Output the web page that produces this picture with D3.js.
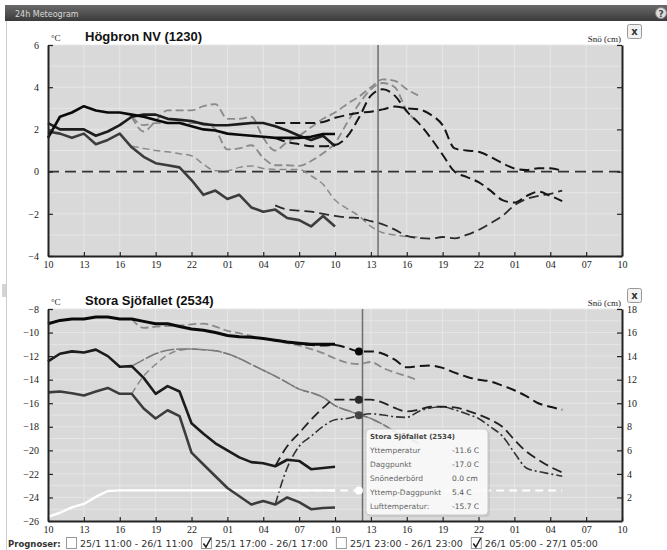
<!DOCTYPE html>
<html>
<head>
<meta charset="utf-8">
<script src="https://cdn.jsdelivr.net/npm/d3@7"></script>
<style>
  body { margin: 0; background: #fff; }
</style>
</head>
<body>
<svg id="chart" width="667" height="550"></svg>
<script>

// x axis: hours after 10:00 on 25/1
const xLabels = ['10', '13', '16', '19', '22', '01', '04', '07', '10',
                 '13', '16', '19', '22', '01', '04', '07', '10'];
const xTickHours = [0, 3, 6, 9, 12, 15, 18, 21, 24, 27, 30, 33, 36, 39, 42, 45, 48];

// start hour of each series
const obsStart = 0;
const f1Start = 7;   // prognos 25/1 17:00
const f2Start = 19;  // prognos 26/1 05:00

// ---- Högbron NV (1230) ----
const topTicks = [-4, -2, 0, 2, 4, 6];
const topObsA = [1.6, 2.6, 2.8, 3.1, 2.9, 2.8, 2.8, 2.7, 2.6, 2.45, 2.3, 2.3, 2.15,
                 2.0, 1.95, 1.8, 1.75, 1.7, 1.65, 1.6, 1.6, 1.6, 1.65, 1.78, 1.78];
const topObsB = [2.3, 2.0, 2.0, 2.0, 1.7, 1.9, 2.2, 2.6, 2.7, 2.7, 2.5, 2.45, 2.4,
                 2.25, 2.2, 2.2, 2.25, 2.3, 2.3, 2.15, 1.95, 1.7, 1.5, 1.7, 1.2];
const topObsDagg = [1.9, 1.8, 1.6, 1.8, 1.3, 1.5, 1.8, 1.15, 0.7, 0.4, 0.3, 0.2, -0.4,
                    -1.1, -0.9, -1.3, -1.1, -1.7, -1.9, -1.8, -2.2, -2.3, -2.6, -2.1, -2.6];
const topF1a = [2.6, 1.9, 2.4, 2.9, 2.9, 2.9, 3.1, 3.2, 2.5, 2.5, 2.6, 1.6, 1.0,
                1.4, 1.7, 2.1, 2.5, 2.8, 3.2, 3.55, 4.0, 4.37, 4.3, 3.9, 3.6];
const topF1b = [2.6, 2.2, 2.3, 2.3, 2.3, 2.3, 2.3, 2.0, 1.05, 1.1, 1.25, 0.65, 0.3,
                0.3, 0.27, 0.5, 0.87, 1.35, 2.3, 3.2, 3.9, 4.2, 4.0, 2.9, 2.3];
const topF1c = [1.2, 1.1, 1.0, 0.94, 0.85, 0.75, 0.35, 0.04, 0.04, 0.2, 0.27, 0.15, 0.1,
                0.1, 0.1, -0.2, -0.6, -1.35, -1.75, -2.1, -2.6, -2.9, -3.0, -3.08, -3.1];
const topF2a = [2.3, 2.3, 2.3, 2.3, 2.35, 2.55, 2.68, 2.79, 2.84, 2.95, 3.08, 3.0, 2.95,
                2.7, 2.2, 1.1, 1.0, 0.94, 0.7, 0.4, 0.15, 0.08, 0.16, 0.16, 0.03];
const topF2b = [1.6, 1.4, 1.3, 1.2, 1.2, 1.26, 1.65, 2.55, 3.6, 3.9, 3.6, 2.85, 2.3,
                1.6, 0.8, 0.0, -0.25, -0.5, -0.9, -1.35, -1.47, -1.16, -0.95, -1.15, -1.4];
const topF2c = [-1.6, -1.8, -1.85, -1.9, -2.0, -2.1, -2.17, -2.2, -2.35, -2.5, -2.75, -3.05, -3.15,
                -3.18, -3.1, -3.16, -3.0, -2.77, -2.45, -2.1, -1.6, -1.3, -1.15, -1.05, -0.9];
const topCursorHour = 27.6;

// ---- Stora Sjöfallet (2534) ----
const botTicks = [-26, -24, -22, -20, -18, -16, -14, -12, -10, -8];
const snowTicks = [2, 4, 6, 8, 10, 12, 14, 16, 18];
const botObsYtt = [-9.25, -8.97, -8.85, -8.85, -8.68, -8.68, -8.85, -8.85, -9.05, -9.25, -9.25, -9.48, -9.7,
                   -9.8, -10.0, -10.25, -10.35, -10.4, -10.5, -10.65, -10.8, -10.9, -11.0, -11.0, -11.0];
const botObsLuft = [-12.45, -11.8, -11.6, -11.7, -11.45, -12.0, -12.9, -12.85, -13.85, -15.2, -14.55, -15.0, -17.7,
                    -18.6, -19.4, -20.0, -20.6, -21.0, -21.1, -21.35, -20.8, -20.9, -21.6, -21.5, -21.4];
const botObsDagg = [-15.08, -15.0, -15.15, -15.35, -15.0, -14.7, -15.2, -15.2, -16.45, -17.3, -16.6, -17.1, -20.2,
                    -21.2, -22.2, -23.2, -23.9, -24.6, -24.3, -24.6, -24.0, -24.4, -25.0, -24.9, -24.85];
const botObsSnow = [0.35, 0.7, 1.15, 1.45, 2.05, 2.55, 2.6, 2.6, 2.6, 2.6, 2.6, 2.6, 2.6,
                    2.6, 2.6, 2.6, 2.6, 2.6, 2.6, 2.6, 2.6, 2.6, 2.6, 2.6, 2.6];
const botF1Ytt = [-8.85, -9.6, -9.5, -9.45, -9.4, -9.3, -9.25, -9.5, -9.85, -10.05, -10.3, -10.5, -10.7,
                  -10.9, -11.1, -11.4, -11.75, -12.2, -12.55, -12.67, -12.5, -13.0, -13.4, -13.7, -14.1];
const botF1Luft = [-12.85, -12.3, -11.8, -11.5, -11.4, -11.4, -11.45, -11.55, -11.8, -12.2, -12.7, -13.2, -13.7,
                   -14.25, -14.8, -15.1, -15.5, -16.2, -16.6, -16.95, -17.3, -17.8, -18.4, -18.9, -19.4];
const botF1Dagg = [-15.2, -13.7, -12.7, -11.9, -11.5, -11.4, -11.45, -11.55, -11.8, -12.2, -12.7, -13.2, -13.7,
                   -14.25, -14.8, -15.1, -15.5, -16.2, -16.6, -16.95, -17.3, -17.8, -18.4, -18.9, -19.4];
const botF2Ytt = [-10.65, -10.8, -10.95, -11.05, -11.1, -11.05, -11.3, -11.6, -11.6, -11.8, -12.3, -12.95, -12.85,
                  -12.8, -13.0, -13.4, -13.75, -14.0, -14.15, -14.5, -14.9, -15.4, -16.0, -16.3, -16.55];
const botF2Luft = [-21.35, -19.66, -18.53, -17.4, -16.4, -15.7, -15.7, -15.7, -15.7, -15.95, -16.4, -16.7, -16.55,
                   -16.3, -16.3, -16.35, -16.6, -16.97, -17.4, -18.0, -19.1, -20.1, -20.8, -21.4, -21.87];
const botF2Dagg = [-24.6, -21.5, -19.66, -18.8, -17.97, -17.4, -17.3, -17.03, -16.9, -17.0, -17.15, -17.2, -16.7,
                   -16.4, -16.3, -16.55, -16.9, -17.3, -18.0, -18.8, -20.2, -21.5, -21.8, -22.0, -22.2];
const botF2Snow = [2.6, 2.6, 2.6, 2.6, 2.6, 2.6, 2.6, 2.6, 2.6, 2.6, 2.6, 2.6, 2.6,
                   2.6, 2.6, 2.6, 2.6, 2.6, 2.6, 2.6, 2.6, 2.6, 2.6, 2.6, 2.6];
const botCursorHour = 26.3;
const botMarkerHour = 26;

// tooltip and legend texts
const tipTitle = 'Stora Sjöfallet (2534)';
const tipLabels = ['Yttemperatur', 'Daggpunkt', 'Snönederbörd', 'Yttemp-Daggpunkt', 'Lufttemperatur:'];
const tipValues = ['-11.6 C', '-17.0 C', '0.0 cm', '5.4 C', '-15.7 C'];
const forecastLabels = ['25/1 11:00 - 26/1 11:00', '25/1 17:00 - 26/1 17:00',
                        '25/1 23:00 - 26/1 23:00', '26/1 05:00 - 27/1 05:00'];
const forecastChecked = [false, true, false, true];


const svg = d3.select('#chart');
const serif = 'Liberation Serif, Times New Roman, serif';
const sans = 'DejaVu Sans, Verdana, sans-serif';

const x = d3.scaleLinear().domain([0, 48]).range([48, 622]);

function toPoints(values, start) {
  return values.map((v, i) => [start + i, v]);
}

// window chrome
let bar = svg.append('defs').append('linearGradient')
  .attr('id', 'barGrad').attr('x1', 0).attr('y1', 0).attr('x2', 0).attr('y2', 1);
bar.append('stop').attr('offset', 0).attr('stop-color', '#6a6a6a');
bar.append('stop').attr('offset', 1).attr('stop-color', '#3a3a3a');
svg.append('rect').attr('x', 5).attr('y', 5).attr('width', 662).attr('height', 16)
  .attr('fill', 'url(#barGrad)');
svg.append('text').text('24h Meteogram')
  .attr('x', 15).attr('y', 16.5)
  .attr('font-family', sans).attr('font-size', 8).attr('fill', '#d8d8d8');
svg.append('circle').attr('cx', 661).attr('cy', 13).attr('r', 5.5)
  .attr('fill', '#ddd').attr('stroke', '#888');
svg.append('text').text('?').attr('x', 661).attr('y', 16.5).attr('text-anchor', 'middle')
  .attr('font-family', sans).attr('font-size', 9).attr('font-weight', 'bold').attr('fill', '#444');
svg.append('line').attr('x1', 6.5).attr('x2', 6.5).attr('y1', 21).attr('y2', 550)
  .attr('stroke', '#ccc');
svg.append('line').attr('x1', 3).attr('x2', 3).attr('y1', 284).attr('y2', 297).attr('stroke', '#aaa');
svg.append('line').attr('x1', 5).attr('x2', 5).attr('y1', 284).attr('y2', 297).attr('stroke', '#aaa');

function drawPanel(p) {
  let g = svg.append('g');
  let y = d3.scaleLinear().domain(p.yDomain).range([p.bottom, p.top]);
  let yR = d3.scaleLinear().domain(p.rightDomain).range([p.bottom, p.top]);

  // plot background
  g.append('rect')
    .attr('x', x(0)).attr('y', p.top)
    .attr('width', x(48) - x(0)).attr('height', p.bottom - p.top)
    .attr('fill', '#d9d9d9');

  // grid
  g.selectAll('.hgrid').data(d3.range(p.yDomain[0] + 1, p.yDomain[1] + 1)).enter()
    .append('line')
    .attr('x1', x(0)).attr('x2', x(48))
    .attr('y1', d => y(d)).attr('y2', d => y(d))
    .attr('stroke', '#e6e6e6').attr('stroke-width', 1);
  g.selectAll('.vgrid').data(xTickHours.slice(1, -1)).enter()
    .append('line')
    .attr('x1', d => x(d)).attr('x2', d => x(d))
    .attr('y1', p.top).attr('y2', p.bottom)
    .attr('stroke', '#e6e6e6').attr('stroke-width', 1);

  if (p.zeroLine) {
    g.append('line')
      .attr('x1', x(0)).attr('x2', x(48))
      .attr('y1', y(0)).attr('y2', y(0))
      .attr('stroke', '#333').attr('stroke-width', 1.6)
      .attr('stroke-dasharray', '11,6');
  }

  // lines
  for (let s of p.series) {
    let yy = s.right ? yR : y;
    let makeLine = d3.line()
      .x(d => x(d[0])).y(d => yy(d[1]))
      .curve(s.dash ? d3.curveMonotoneX : d3.curveLinear);
    g.append('path')
      .attr('d', makeLine(toPoints(s.values, s.start)))
      .attr('fill', 'none')
      .attr('stroke', s.color)
      .attr('stroke-width', s.width)
      .attr('stroke-dasharray', s.dash || null)
      .attr('stroke-linejoin', 'round');
  }

  // cursor line
  g.append('line')
    .attr('x1', x(p.cursor)).attr('x2', x(p.cursor))
    .attr('y1', p.top).attr('y2', p.bottom)
    .attr('stroke', '#6e6e6e').attr('stroke-width', 1.5);

  // markers
  for (let m of (p.markers || [])) {
    let yy = m.right ? yR : y;
    g.append('circle')
      .attr('cx', x(p.markerHour))
      .attr('cy', yy(m.values[p.markerHour - m.start]))
      .attr('r', 4)
      .attr('fill', m.color)
      .attr('stroke', m.stroke || 'none');
  }

  // axes
  let leftAxis = g.append('g').attr('transform', 'translate(' + x(0) + ',0)')
    .call(d3.axisLeft(y).tickValues(p.leftTicks).tickSize(-5).tickSizeOuter(0).tickPadding(9));
  let rightAxis = g.append('g').attr('transform', 'translate(' + x(48) + ',0)')
    .call(d3.axisRight(yR).tickValues(p.rightTicks).tickSize(-5).tickSizeOuter(0).tickPadding(5)
      .tickFormat(p.rightLabels ? d3.format('d') : ''));
  let bottomAxis = g.append('g').attr('transform', 'translate(0,' + p.bottom + ')')
    .call(d3.axisBottom(x).tickValues(xTickHours).tickSize(-4).tickSizeOuter(0).tickPadding(5)
      .tickFormat((d, i) => xLabels[i]));

  for (let a of [leftAxis, rightAxis, bottomAxis]) {
    a.select('.domain').attr('stroke', '#222').attr('stroke-width', 2);
    a.selectAll('.tick line').attr('stroke', '#222').attr('stroke-width', 1.2);
    a.selectAll('text').attr('font-family', serif).attr('font-size', 10).attr('fill', '#222');
  }

  // titles
  g.append('text').text(p.title)
    .attr('x', 85).attr('y', p.top - 4)
    .attr('font-family', 'Liberation Sans, Arial, sans-serif')
    .attr('font-size', 13).attr('font-weight', 'bold').attr('fill', '#111');
  g.append('text').text('°C')
    .attr('x', 51).attr('y', p.top - 4)
    .attr('font-family', serif).attr('font-size', 9).attr('fill', '#222');
  g.append('text').text('Snö (cm)')
    .attr('x', x(48) - 1).attr('y', p.top - 3).attr('text-anchor', 'end')
    .attr('font-family', serif).attr('font-size', 9).attr('fill', '#222');

  // close button
  g.append('rect')
    .attr('x', 627.5).attr('y', p.top - 20.5).attr('width', 14).attr('height', 14).attr('rx', 2)
    .attr('fill', '#f2f2f2').attr('stroke', '#999');
  g.append('text').text('x')
    .attr('x', 634.5).attr('y', p.top - 10).attr('text-anchor', 'middle')
    .attr('font-family', sans).attr('font-size', 10).attr('font-weight', 'bold').attr('fill', '#333');
}

const gray1 = '#8a8a8a';
const black = '#151515';

drawPanel({
  title: 'Högbron NV (1230)',
  top: 45, bottom: 256,
  yDomain: [-4, 6], rightDomain: [-4, 6],
  leftTicks: topTicks, rightTicks: topTicks, rightLabels: false,
  zeroLine: true,
  cursor: topCursorHour,
  series: [
    {values: topF1c, start: f1Start, color: gray1, width: 1.5, dash: '7,4'},
    {values: topF1b, start: f1Start, color: gray1, width: 1.8, dash: '8,4'},
    {values: topF1a, start: f1Start, color: gray1, width: 1.8, dash: '8,4'},
    {values: topF2c, start: f2Start, color: '#2a2a2a', width: 1.8, dash: '10,5'},
    {values: topF2b, start: f2Start, color: black, width: 2, dash: '10,5'},
    {values: topF2a, start: f2Start, color: black, width: 2, dash: '10,5'},
    {values: topObsDagg, start: obsStart, color: '#3c3c3c', width: 2.6},
    {values: topObsB, start: obsStart, color: '#1c1c1c', width: 2.6},
    {values: topObsA, start: obsStart, color: '#0a0a0a', width: 2.6}
  ]
});

drawPanel({
  title: 'Stora Sjöfallet (2534)',
  top: 309, bottom: 521,
  yDomain: [-26, -8], rightDomain: [0, 18],
  leftTicks: botTicks, rightTicks: snowTicks, rightLabels: true,
  zeroLine: false,
  cursor: botCursorHour,
  markerHour: botMarkerHour,
  series: [
    {values: botF1Dagg, start: f1Start, color: gray1, width: 1.5, dash: '7,4'},
    {values: botF1Luft, start: f1Start, color: '#7a7a7a', width: 1.5, dash: '14,2'},
    {values: botF1Ytt, start: f1Start, color: gray1, width: 1.8, dash: '8,4'},
    {values: botF2Snow, start: f2Start, color: '#ffffff', width: 2, dash: '8,5', right: true},
    {values: botF2Dagg, start: f2Start, color: '#333', width: 1.6, dash: '9,3,2,3'},
    {values: botF2Luft, start: f2Start, color: '#222', width: 1.8, dash: '10,5'},
    {values: botF2Ytt, start: f2Start, color: black, width: 2, dash: '10,5'},
    {values: botObsSnow, start: obsStart, color: '#ffffff', width: 2.4, right: true},
    {values: botObsDagg, start: obsStart, color: '#3c3c3c', width: 2.6},
    {values: botObsLuft, start: obsStart, color: '#1c1c1c', width: 2.6},
    {values: botObsYtt, start: obsStart, color: '#0a0a0a', width: 3}
  ],
  markers: [
    {values: botF2Snow, start: f2Start, color: '#ffffff', right: true},
    {values: botF2Dagg, start: f2Start, color: '#444'},
    {values: botF2Luft, start: f2Start, color: '#2a2a2a'},
    {values: botF2Ytt, start: f2Start, color: '#0a0a0a'}
  ]
});

// tooltip
let tip = svg.append('g').attr('transform', 'translate(366,429)');
tip.append('rect').attr('x', 2).attr('y', 2).attr('width', 122).attr('height', 86).attr('rx', 4)
  .attr('fill', '#000').attr('opacity', 0.08);
tip.append('rect').attr('width', 122).attr('height', 86).attr('rx', 4)
  .attr('fill', '#ffffff').attr('fill-opacity', 0.85).attr('stroke', '#c8c8c8');
tip.append('text').text(tipTitle)
  .attr('x', 4).attr('y', 10)
  .attr('font-family', sans).attr('font-size', 7).attr('font-weight', 'bold').attr('fill', '#444');
for (let i = 0; i < tipLabels.length; i++) {
  tip.append('text').text(tipLabels[i])
    .attr('x', 4).attr('y', 24 + i * 14)
    .attr('font-family', sans).attr('font-size', 7.5).attr('fill', '#666');
  tip.append('text').text(tipValues[i])
    .attr('x', 86).attr('y', 24 + i * 14)
    .attr('font-family', sans).attr('font-size', 7.5).attr('fill', '#555');
}

// forecast legend
svg.append('text').text('Prognoser:')
  .attr('x', 8).attr('y', 547)
  .attr('font-family', sans).attr('font-size', 8.5).attr('font-weight', 'bold').attr('fill', '#333');
let cursorX = 66;
for (let i = 0; i < forecastLabels.length; i++) {
  svg.append('rect').attr('x', cursorX + 0.5).attr('y', 537.5).attr('width', 10).attr('height', 11)
    .attr('fill', '#fff').attr('stroke', '#999');
  if (forecastChecked[i]) {
    svg.append('path')
      .attr('d', 'M' + (cursorX + 2.5) + ',543.5 l2.5,3.5 l5,-9')
      .attr('fill', 'none').attr('stroke', '#222').attr('stroke-width', 1.5);
  }
  let t = svg.append('text').text(forecastLabels[i])
    .attr('x', cursorX + 14).attr('y', 547)
    .attr('font-family', sans).attr('font-size', 9.5).attr('fill', '#333');
  cursorX += 14 + t.node().getComputedTextLength() + 8;
}
</script>
</body>
</html>
